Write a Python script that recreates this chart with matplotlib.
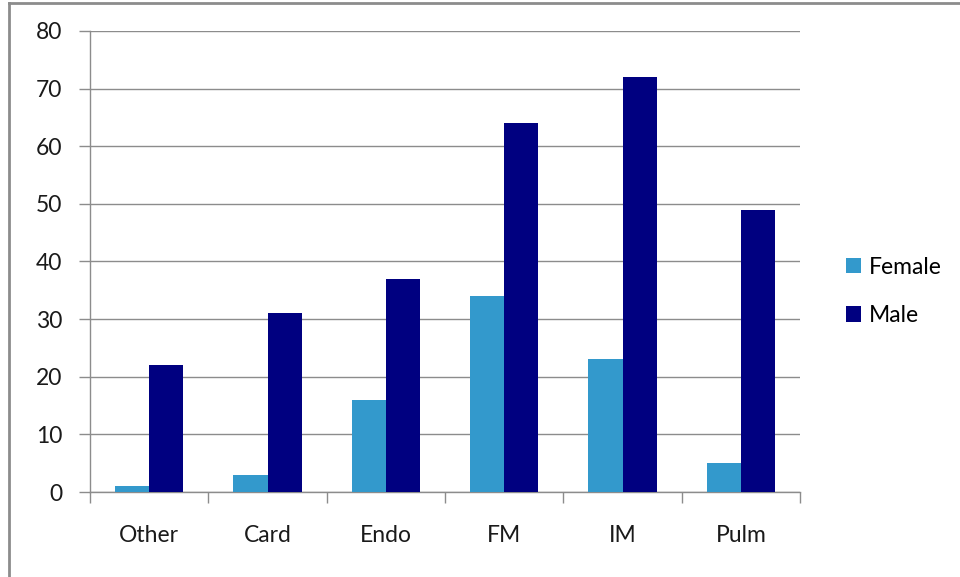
import numpy as np
import matplotlib.pyplot as plt
from matplotlib.lines import Line2D

# Counts by specialty and sex
categories = ['Other', 'Card', 'Endo', 'FM', 'IM', 'Pulm']
female = [1, 3, 16, 34, 23, 5]
male = [22, 31, 37, 64, 72, 49]

plt.rcParams['font.family'] = ['Lato', 'DejaVu Sans']
fs = 16.5

fig = plt.figure(figsize=(9.6, 5.77), dpi=100)
ax = fig.add_axes([0.09375, 0.1473, 0.7396, 0.799])

x = np.arange(len(categories))
w = 0.29
ax.bar(x - w / 2, female, w, color='#3399CC', label='Female', zorder=3)
ax.bar(x + w / 2, male, w, color='#000080', label='Male', zorder=3)

ax.set_xlim(-0.5, len(categories) - 0.5)
ax.set_ylim(0, 80)
ax.set_yticks(range(0, 81, 10))
ax.yaxis.grid(True, color='#8C8C8C', linewidth=1, zorder=0)

# category labels centred, ticks on the boundaries
ax.set_xticks(x)
ax.set_xticklabels(categories)
ax.set_xticks(np.arange(-0.5, len(categories)), minor=True)
ax.tick_params(axis='x', which='major', length=0, pad=24, labelsize=fs, labelcolor='#1a1a1a')
ax.tick_params(axis='x', which='minor', length=8, width=1, color='#8C8C8C')
ax.tick_params(axis='y', length=8, width=1, color='#8C8C8C', pad=12, labelsize=fs, labelcolor='#1a1a1a')

for s in ['top', 'right']:
    ax.spines[s].set_visible(False)
for s in ['left', 'bottom']:
    ax.spines[s].set_color('#8C8C8C')
    ax.spines[s].set_linewidth(1)

fig.legend(loc='center left', bbox_to_anchor=(0.86, 0.495), frameon=False,
           fontsize=fs, handlelength=0.65, handleheight=0.65, handletextpad=0.35,
           labelspacing=1.2)

# outer chart frame
fig.add_artist(Line2D([0.0089, 0.0089], [0, 0.995], color='#8C8C8C', linewidth=2))
fig.add_artist(Line2D([0.0089, 1], [0.995, 0.995], color='#8C8C8C', linewidth=2))

fig.savefig('out.png', dpi=100, facecolor='white')
